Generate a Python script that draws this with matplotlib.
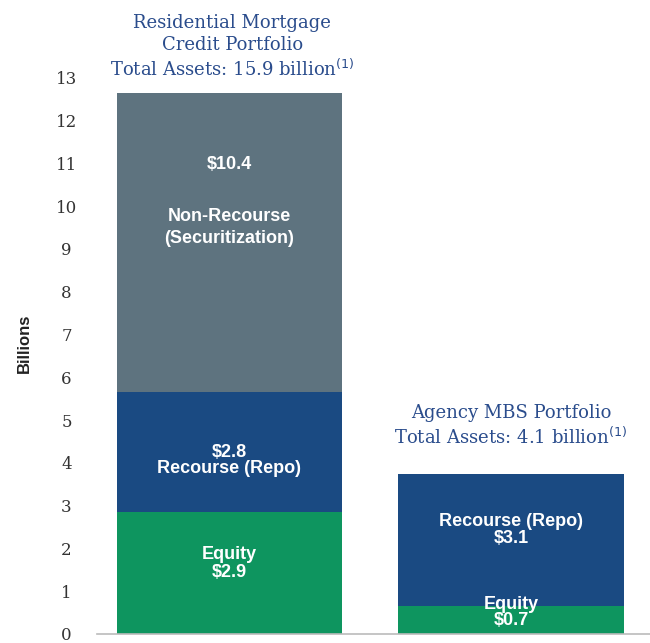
import matplotlib
matplotlib.use("Agg")
import matplotlib.pyplot as plt

# ---- data ----
portfolios = ["Residential Mortgage Credit Portfolio", "Agency MBS Portfolio"]
equity = [2.85, 0.65]
recourse = [2.8, 3.1]
non_recourse = [7.0, 0.0]
equity_labels = ["Equity\n$2.9", "Equity\n$0.7"]
recourse_labels = ["$2.8\nRecourse (Repo)", "Recourse (Repo)\n$3.1"]
non_recourse_label = "Non-Recourse\n(Securitization)"
non_recourse_value = "$10.4"
titles = ["Residential Mortgage\nCredit Portfolio\nTotal Assets: 15.9 billion$^{(1)}$",
          "Agency MBS Portfolio\nTotal Assets: 4.1 billion$^{(1)}$"]
yticks = list(range(0, 14))

c_green = "#0e955f"
c_navy = "#1a4a82"
c_gray = "#5e737f"
c_title = "#2a4c8c"

fig = plt.figure(figsize=(6.5, 6.43), dpi=100)
ax = fig.add_axes([97/650, 9/643, 1 - 97/650, 1 - 9/643 - 52/643])

x = [0, 1]
w = 0.8
ax.bar(x, equity, width=w, color=c_green, zorder=2)
ax.bar(x, recourse, width=w, bottom=equity, color=c_navy, zorder=2)
bot2 = [e + r for e, r in zip(equity, recourse)]
ax.bar(x, non_recourse, width=w, bottom=bot2, color=c_gray, zorder=2)

ax.set_xlim(-0.47, 1.494)
ax.set_ylim(0, 13.6)

for s in ["top", "right", "left"]:
    ax.spines[s].set_visible(False)
ax.spines["bottom"].set_color("#bbbbbb")
ax.spines["bottom"].set_linewidth(1.2)
ax.set_xticks([])
ax.set_yticks(yticks)
ax.set_yticklabels([str(t) for t in yticks], family="DejaVu Serif", fontsize=12, color="#333333")
ax.tick_params(axis="y", length=0, pad=22)
for lbl in ax.get_yticklabels():
    lbl.set_horizontalalignment("center")
ax.set_ylabel("Billions", family="Liberation Sans", fontweight="bold", fontsize=12, labelpad=17, color="#222222")

lab_kw = dict(color="white", fontweight="bold", family="Liberation Sans", fontsize=13,
              ha="center", va="center", linespacing=1.0, zorder=3)

# bar 1 labels
ax.text(0, 10.96, non_recourse_value, **lab_kw)
ax.text(0, 9.5, non_recourse_label, **{**lab_kw, "linespacing": 1.4})
ax.text(0, 4.05, recourse_labels[0], **{**lab_kw, "linespacing": 0.9})
ax.text(0, 1.65, equity_labels[0], **{**lab_kw, "linespacing": 1.05})
# bar 2 labels
ax.text(1, 2.43, recourse_labels[1], **{**lab_kw, "linespacing": 0.95})
ax.text(1, 0.5, equity_labels[1], **{**lab_kw, "linespacing": 0.9})

tkw = dict(color=c_title, family="DejaVu Serif", fontsize=13, ha="center", va="center",
           linespacing=1.25, clip_on=False)
ax.text(0.01, 13.72, titles[0], **tkw)
ax.text(1.0, 4.86, titles[1], **tkw)

fig.savefig("out.png", dpi=100)
